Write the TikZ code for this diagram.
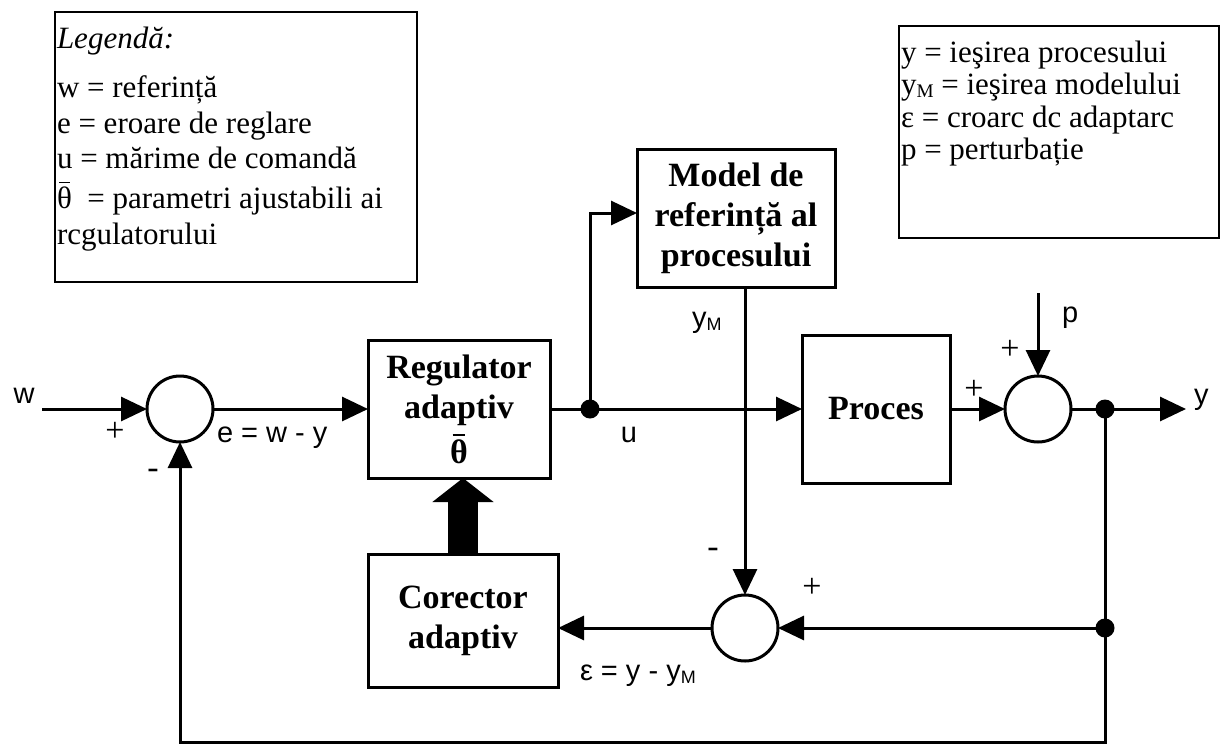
\documentclass[tikz,border=0pt]{standalone}
\usepackage{fontspec}
\setmainfont{Liberation Serif}
\setsansfont{Liberation Sans}
\usetikzlibrary{arrows.meta}
\newcommand{\thbar}{\rlap{\hspace{0.07em}\smash{\raisebox{0.8em}{\rule{0.36em}{0.05em}}}}θ}
\newcommand{\subM}{\smash{\raisebox{-0.12em}{\scalebox{0.62}{M}}}}
\begin{document}
\begin{tikzpicture}[x=1pt,y=-1pt,
  every node/.style={inner sep=0pt, outer sep=0pt},
  blk/.style={draw, line width=3pt, font=\bfseries\fontsize{34}{40}\selectfont, align=center},
  sumc/.style={draw, circle, line width=3pt, minimum size=66pt},
  lbl/.style={font=\sffamily\fontsize{29}{32}\selectfont},
  sgn/.style={font=\fontsize{34}{34}\selectfont},
  legtxt/.style={font=\fontsize{31}{36}\selectfont, anchor=base west},
  legbox/.style={draw, line width=2pt},
  conn/.style={line width=3pt},
  arr/.style={conn, -{Triangle[length=26pt,width=24pt]}},
  dotn/.style={circle, fill, minimum size=19pt}
]
\useasboundingbox (0,0) rectangle (1221,745);

% legends
\node[legbox, minimum width=362pt, minimum height=270pt] (leg1) at (236,147) {};
\node[legtxt] (l0) at (57,48) {\textit{Legendă:}};
\node[legtxt] (l1) at (57,97) {w = referință};
\node[legtxt] (l2) at (57,133) {e = eroare de reglare};
\node[legtxt] (l3) at (57,168) {u = mărime de comandă};
\node[legtxt] (l4) at (57,208) {\thbar\ \ = parametri ajustabili ai};
\node[legtxt] (l5) at (57,244) {rcgulatorului};

\node[legbox, minimum width=320pt, minimum height=212pt] (leg2) at (1059,132) {};
\node[legtxt] (r1) at (901,62) {y = ieşirea procesului};
\node[legtxt] (r2) at (901,94) {y\subM\ = ieşirea modelului};
\node[legtxt] (r3) at (901,127) {ε = croarc dc adaptarc};
\node[legtxt] (r4) at (901,159) {p = perturbație};

% blocks
\node[blk, minimum width=182pt, minimum height=138pt] (reg) at (459,409) {Regulator\\adaptiv\\[5pt]\thbar};
\node[blk, minimum width=198pt, minimum height=138pt] (model) at (736,218) {Model de\\referință al\\procesului};
\node[blk, minimum width=148pt, minimum height=148pt] (proc) at (876,409) {Proces};
\node[blk, minimum width=190pt, minimum height=133pt] (corr) at (463,621) {Corector\\adaptiv};

% sums
\node[sumc] (s1) at (180,409) {};
\node[sumc] (s2) at (1038,409) {};
\node[sumc] (s3) at (745,628) {};

% dots and coordinates
\node[dotn] (d1) at (590,409) {};
\node[dotn] (d2) at (1105,409) {};
\node[dotn] (d3) at (1105,628) {};
\coordinate (win) at (42,409);
\coordinate (mIn) at (637,213);
\coordinate (pin) at (1038,293);
\coordinate (yout) at (1186,409);
\coordinate (fb) at (1105,742);

% connectors
\draw[arr] (win) -- (s1.west);
\draw[arr] (s1.east) -- (reg.west);
\draw[conn] (reg.east) -- (d1.center);
\draw[arr] (d1.center) -- (proc.west);
\draw[arr] (d1.center) |- (mIn);
\draw[arr] (model.south -| s3.north) -- (s3.north);
\draw[arr] (proc.east) -- (s2.west);
\draw[arr] (pin) -- (s2.north);
\draw[conn] (s2.east) -- (d2.center);
\draw[arr] (d2.center) -- (yout);
\draw[conn] (d2.center) -- (d3.center);
\draw[arr] (d3.center) -- (s3.east);
\draw[arr] (s3.west) -- (s3.west -| corr.east);
\draw[arr] (d3.center) -- (fb) -| (s1.south);
\draw[line width=30pt, -{Triangle[length=24pt,width=60pt]}] (corr.north) -- (corr.north |- reg.south);

% labels
\node[lbl] (tw) at (24,396) {w};
\node[sgn] (p1) at (115,432) {+};
\node[sgn] (m1) at (153,474) {-};
\node[lbl, anchor=base west] (te) at (217,442) {e = w - y};
\node[lbl] (tu) at (629,435) {u};
\node[lbl, anchor=base west] (tym) at (692,327) {y\subM};
\node[sgn] (p2) at (974,390) {+};
\node[sgn] (p3) at (1010,350) {+};
\node[lbl, anchor=base west] (tp) at (1062,322) {p};
\node[lbl, anchor=base west] (ty) at (1194,404) {y};
\node[sgn] (m3) at (713,553) {-};
\node[sgn] (p4) at (812,588) {+};
\node[lbl, anchor=base west] (teps) at (580,680) {ε = y - y\subM};
\end{tikzpicture}
\end{document}
